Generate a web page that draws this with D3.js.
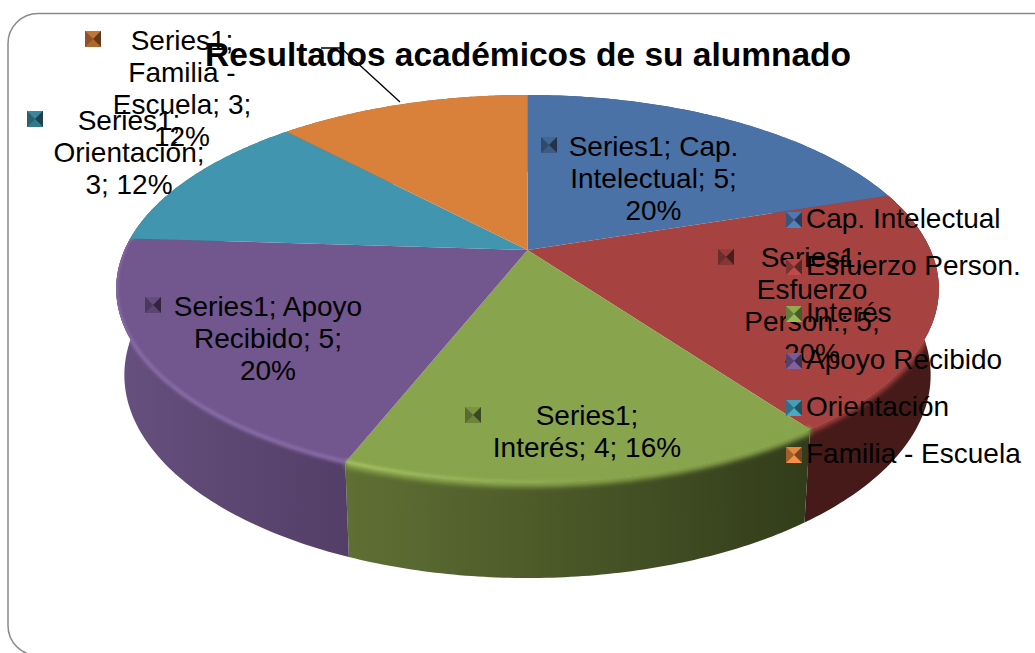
<!DOCTYPE html>
<html><head><meta charset="utf-8">
<script src="https://cdn.jsdelivr.net/npm/d3@7"></script>
<style>html,body{margin:0;padding:0;background:#fff;overflow:hidden}svg{display:block}text{font-family:"Liberation Sans",Arial,sans-serif;fill:#000}</style>
</head><body><svg id="c" width="1035" height="653"></svg>
<script>
const chartTitle = "Resultados académicos de su alumnado";
const categories = ["Cap. Intelectual","Esfuerzo Person.","Interés","Apoyo Recibido","Orientación","Familia - Escuela"];
const values = [5,5,4,5,3,3];
const topColors = ["#4a72a6","#a64341","#88a44c","#72568e","#4195ae","#d9803b"];
const sideLeft = ["#3a5a85","#451a18","#5f7034","#66507f","#30707f","#a05f2c"];
const sideRight = ["#3a5a85","#451a18","#323c1a","#523e66","#30707f","#a05f2c"];
const rimStart = ["#4a72a6","#a64341","#a8c666","#8c72ac","#4195ae","#d9803b"];
const rimEnd = ["#4a72a6","#a64341","#88a44c","#8f76ae","#4195ae","#d9803b"];
const labelLines = [
  ["Series1; Cap.","Intelectual; 5;","20%"],
  ["Series1;","Esfuerzo","Person.; 5;","20%"],
  ["Series1;","Interés; 4; 16%"],
  ["Series1; Apoyo","Recibido; 5;","20%"],
  ["Series1;","Orientación;","3; 12%"],
  ["Series1;","Familia -","Escuela; 3;","12%"]
];

const svg=d3.select("#c");
const defs=svg.append("defs");
const k=0.2;
function proj(a,cx,cy,A,B){const u=Math.sin(a),v=-Math.cos(a),d=1-k*v;return [cx+A*u/d,cy+B*v/d];}
const topP=a=>proj(a,527.5,250,403,186);
const botP=a=>proj(a,527.5,334.4,395,194.9);
const arcs=d3.pie().sort(null)(values);
const line=d3.line();
function samples(s,e){return d3.range(0,81).map(i=>s+(e-s)*i/80);}

svg.append("rect").attr("x",8).attr("y",13.5).attr("width",1120).attr("height",642).attr("rx",30)
  .attr("fill","#fff").attr("stroke","#8a8a8a").attr("stroke-width",1.5);

function blur(id,sd){defs.append("filter").attr("id",id).attr("filterUnits","userSpaceOnUse")
  .attr("x",0).attr("y",0).attr("width",1035).attr("height",653)
  .append("feGaussianBlur").attr("stdDeviation",sd);}
blur("soft",1.4);blur("softWide",2.6);

const pie=svg.append("g");
const clip=defs.append("clipPath").attr("id","pieClip");
arcs.forEach((d,i)=>{
  const ts=samples(d.startAngle,d.endAngle);
  const pts=ts.map(topP).concat(ts.slice().reverse().map(botP));
  const xs=pts.map(p=>p[0]);
  const g=defs.append("linearGradient").attr("id","side"+i).attr("gradientUnits","userSpaceOnUse")
    .attr("x1",d3.min(xs)).attr("x2",d3.max(xs)).attr("y1",0).attr("y2",0);
  g.append("stop").attr("offset",0).attr("stop-color",sideLeft[i]);
  g.append("stop").attr("offset",1).attr("stop-color",sideRight[i]);
  pie.append("path").attr("d",line(pts)+"Z").attr("fill",`url(#side${i})`);
  clip.append("path").attr("d",line(pts)+"Z");
});
clip.append("path").attr("d",line(samples(0,2*Math.PI).map(topP))+"Z");
arcs.forEach((d,i)=>{
  const ts=samples(d.startAngle,d.endAngle);
  pie.append("path").attr("d",line([[527.5,250]].concat(ts.map(topP)))+"Z").attr("fill",topColors[i]);
});
// soft bevel along the front edge of each slice
const bev=pie.append("g").attr("clip-path","url(#pieClip)");
arcs.forEach((d,i)=>{
  const s=Math.max(d.startAngle,Math.PI*0.42), e=Math.min(d.endAngle,Math.PI*1.62);
  if(e<=s) return;
  const pts=samples(s,e).map(topP);
  const xs=pts.map(p=>p[0]);
  const g=defs.append("linearGradient").attr("id","rim"+i).attr("gradientUnits","userSpaceOnUse")
    .attr("x1",d3.min(xs)).attr("x2",d3.max(xs)).attr("y1",0).attr("y2",0);
  const grad=i===3?[[0,rimEnd[i]],[1,rimStart[i]]]:[[0,rimStart[i]],[0.55,rimEnd[i]],[1,rimEnd[i]]];
  grad.forEach(q=>g.append("stop").attr("offset",q[0]).attr("stop-color",q[1]));
  if(i===1){
    bev.append("path").attr("d",line(pts)).attr("fill","none").attr("stroke",topColors[i])
      .attr("stroke-width",7).attr("filter","url(#softWide)");
  } else if(i===2){
    bev.append("path").attr("d",line(pts)).attr("fill","none").attr("stroke",topColors[i])
      .attr("stroke-width",7).attr("transform","translate(0,1)").attr("filter","url(#softWide)");
    bev.append("path").attr("d",line(pts)).attr("fill","none").attr("stroke",`url(#rim${i})`)
      .attr("stroke-width",3).attr("transform","translate(0,-1)").attr("filter","url(#soft)");
  } else {
    bev.append("path").attr("d",line(pts)).attr("fill","none").attr("stroke",topColors[i])
      .attr("stroke-width",5).attr("filter","url(#soft)");
    bev.append("path").attr("d",line(pts)).attr("fill","none").attr("stroke",`url(#rim${i})`)
      .attr("stroke-width",2.5).attr("transform","translate(0,-1)").attr("filter","url(#soft)");
  }
});

// title
svg.append("text").attr("x",528).attr("y",66).attr("text-anchor","middle")
  .attr("font-size",33.5).attr("font-weight","bold").text(chartTitle);

// leader line
svg.append("path").attr("d",line([[321,48],[341,48],[400,102]])).attr("fill","none").attr("stroke","#000").attr("stroke-width",1.3);

// bevelled markers
function marker(x,y,i,dark){
  const s=16,c=d3.color(topColors[i]);
  const m=svg.append("g").attr("transform",`translate(${x},${y})`);
  const mk=(p,col)=>m.append("path").attr("d",line(p)+"Z").attr("fill",col);
  const o=s/2, in1=3;
  mk([[0,0],[s,0],[s,s],[0,s]],c.darker(dark?0.9:0.3).formatHex());
  mk([[0,0],[s,0],[o,o]],c.darker(dark?0.3:-0.15).formatHex());
  mk([[s,0],[s,s],[o,o]],c.darker(dark?2.3:1.7).formatHex());
  mk([[0,s],[s,s],[o,o]],c.darker(dark?0.6:-0.35).formatHex());
  mk([[0,0],[0,s],[o,o]],c.darker(dark?1.2:0.8).formatHex());
}

// data labels: marker corner and text centre / first baseline
const labelMarkers=[[541,137],[718,249],[465,407],[145,297],[27,111],[85,31]];
const labelCentres=[[653.5,156],[812,267],[587,425],[268,316],[129,130],[182,50]];
const lh=32;
labelLines.forEach((ls,i)=>{
  marker(labelMarkers[i][0],labelMarkers[i][1],i,true);
  const t=svg.append("text").attr("text-anchor","middle").attr("font-size",28);
  ls.forEach((l,j)=>t.append("tspan").attr("x",labelCentres[i][0]).attr("y",labelCentres[i][1]+j*lh).text(l));
});

// legend
const legendY=d3.scalePoint().domain(categories).range([220,455]);
categories.forEach((c,i)=>{
  const y=legendY(c);
  marker(786,y-8,i,false);
  svg.append("text").attr("x",806).attr("y",y+8).attr("font-size",28).text(c);
});
</script></body></html>
